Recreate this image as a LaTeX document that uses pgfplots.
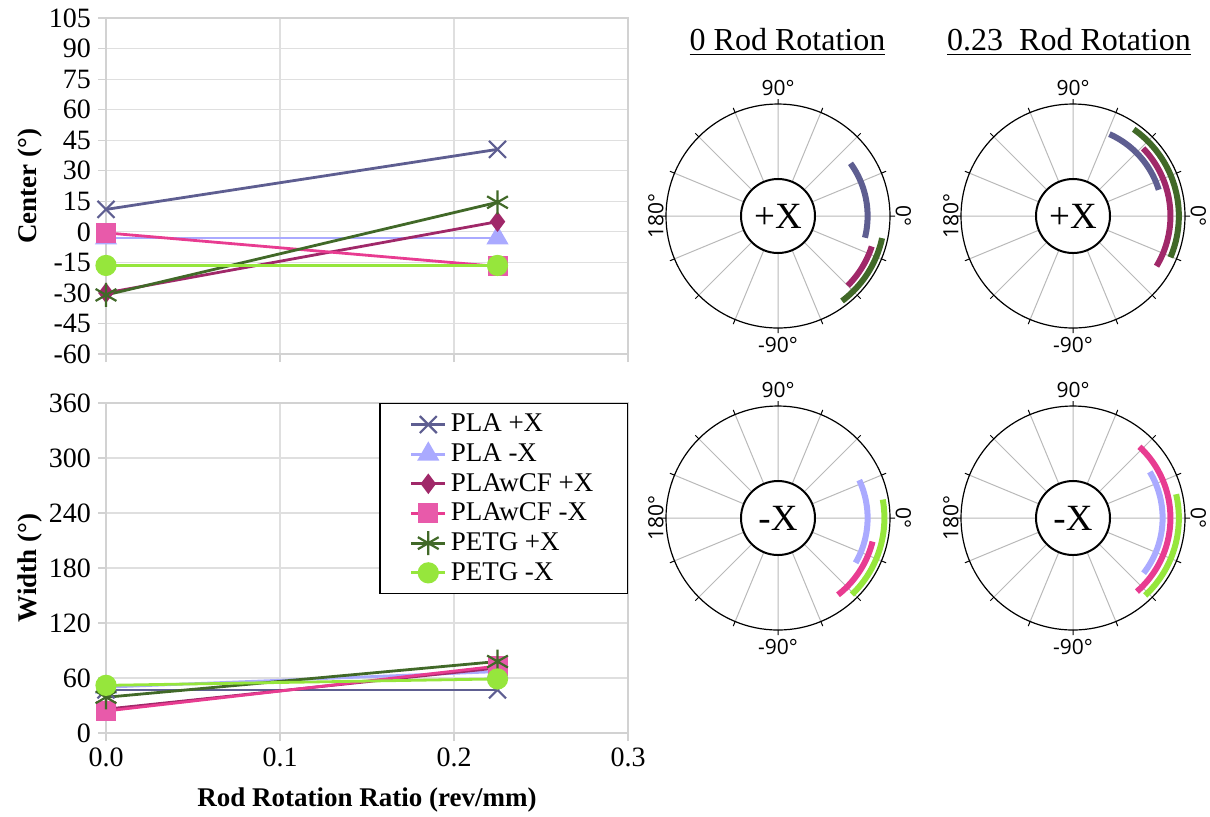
\documentclass[border=0pt]{standalone}
\usepackage{pgfplots}
\pgfplotsset{compat=1.18}
\usepackage{pgfplotstable}
\usepgfplotslibrary{polar}
\usepackage{fontspec}
\setmainfont{Liberation Serif}
\newfontfamily\polarfont{Open Sans}
\newfontfamily\tickfont{Liberation Serif}

\definecolor{plaP}{RGB}{94,94,145}
\definecolor{plaM}{RGB}{170,170,255}
\definecolor{cfP}{RGB}{160,40,105}
\definecolor{cfM}{RGB}{232,60,145}
\definecolor{cfMfill}{RGB}{232,90,170}
\definecolor{petgP}{RGB}{65,105,40}
\definecolor{petgM}{RGB}{150,230,60}

% center and width of the arc, per series
\pgfplotstableread{
x     plap plam  cfp  cfm   petgp petgm
0     11   -3    -30  -0.5  -31   -16.5
0.225 40.5 -3    5    -17   14.5  -16.5
}\centertab
\pgfplotstableread{
x     plap plam cfp cfm petgp petgm
0     47   50   26  24  39    52
0.225 47   67   71  73  78    59
}\widthtab

\pgfplotsset{
  leftstyle/.style={
    scale only axis, width=261pt,
    xmin=0, xmax=0.3, xtick={0,0.1,0.2,0.3},
    grid=major, grid style={gray!25, line width=0.6pt},
    axis line style={gray!35, line width=0.6pt},
    tick style={gray!35, line width=0.6pt},
    tick align=outside, major tick length=4pt,
    xtick pos=left, ytick pos=left,
    yticklabel={\tickfont\fontsize{14}{16}\selectfont\pgfmathprintnumber[assume math mode=true]{\tick}},
    ylabel style={font=\fontsize{13.5}{16}\selectfont\bfseries,
      at={(axis description cs:-0.146,0.5)}, anchor=center},
    clip=false,
  },
  s1/.style={color=plaP, line width=1.4pt, mark=x, mark size=6pt, mark options={line width=1.1pt}},
  s2/.style={color=plaM, line width=1.4pt, mark=triangle*, mark size=5pt},
  s3/.style={color=cfP, line width=1.4pt, mark=diamond*, mark size=4pt},
  s4/.style={color=cfM, line width=1.4pt, mark=square*, mark size=4.3pt, mark options={fill=cfMfill, draw=cfMfill}},
  s5/.style={color=petgP, line width=1.4pt, mark=asterisk, mark size=6pt, mark options={line width=1.1pt}},
  s6/.style={color=petgM, line width=1.4pt, mark=*, mark size=4.6pt},
  polstyle/.style={
    scale only axis, width=112pt, height=112pt,
    ymin=0, ymax=1,
    xtick={0,22.5,...,337.5}, xticklabels={},
    ytick=\empty,
    xmajorgrids, major x grid style={gray!55, line width=0.5pt},
    axis line style={black, line width=0.6pt},
    y axis line style={draw=none},
    major tick length=2.5pt, tick style={black, line width=0.5pt},
    clip=false, anchor=center,
  },
  arc/.style={line width=3pt, samples=40},
}

\newcommand{\polarlabels}[1]{%
  \node[font=\polarfont\fontsize{10.5}{12}\selectfont] at (axis cs:90,1.14) {90°};
  \node[font=\polarfont\fontsize{10.5}{12}\selectfont] at (axis cs:270,1.15) {-90°};
  \node[font=\polarfont\fontsize{10.5}{12}\selectfont, rotate=90] at (axis cs:180,1.09) {180°};
  \node[font=\polarfont\fontsize{10.5}{12}\selectfont, rotate=-90] at (axis cs:0,1.12) {0°};
  \draw[line width=1pt, fill=white] (axis cs:0,0) circle[radius=18.5pt];
  \node[font=\fontsize{18.5}{20}\selectfont] at (axis cs:0,0) {#1};
}

\begin{document}
\begin{tikzpicture}
\useasboundingbox (0,0) rectangle (605pt,-408pt);

% Center chart
\begin{axis}[leftstyle, at={(53pt,-177pt)}, anchor=south west, height=168pt,
  ymin=-60, ymax=105, ytick={-60,-45,...,105}, xticklabels={},
  ylabel={Center (°)}]
\addplot[s1] table[x=x, y=plap] {\centertab};
\addplot[s2] table[x=x, y=plam] {\centertab};
\addplot[s3] table[x=x, y=cfp] {\centertab};
\addplot[s4] table[x=x, y=cfm] {\centertab};
\addplot[s5] table[x=x, y=petgp] {\centertab};
\addplot[s6] table[x=x, y=petgm] {\centertab};
\end{axis}

% Width chart
\begin{axis}[leftstyle, at={(53pt,-366.5pt)}, anchor=south west, height=165pt,
  ymin=0, ymax=360, ytick={0,60,...,360},
  xticklabel={\tickfont\fontsize{14}{16}\selectfont\pgfmathprintnumber[assume math mode=true, fixed, fixed zerofill, precision=1]{\tick}},
  ylabel={Width (°)},
  xlabel={Rod Rotation Ratio (rev/mm)},
  xlabel style={font=\fontsize{13.5}{16}\selectfont\bfseries,
    at={(axis description cs:0.5,-0.203)}, anchor=center},
  legend cell align=left,
  legend style={at={(1,1)}, anchor=north east, draw=black, line width=0.7pt,
    font=\fontsize{13.5}{15}\selectfont, inner xsep=15pt, inner ysep=3pt,
    nodes={inner ysep=2.2pt}, row sep=0pt}]
\addplot[s1] table[x=x, y=plap] {\widthtab};
\addlegendentry{PLA +X}
\addplot[s2] table[x=x, y=plam] {\widthtab};
\addlegendentry{PLA -X}
\addplot[s3] table[x=x, y=cfp] {\widthtab};
\addlegendentry{PLAwCF +X}
\addplot[s4] table[x=x, y=cfm] {\widthtab};
\addlegendentry{PLAwCF -X}
\addplot[s5] table[x=x, y=petgp] {\widthtab};
\addlegendentry{PETG +X}
\addplot[s6] table[x=x, y=petgm] {\widthtab};
\addlegendentry{PETG -X}
\end{axis}

\node[font=\fontsize{16}{18}\selectfont] at (393.75pt,-21pt) {\underline{0 Rod Rotation}};
\node[font=\fontsize{16}{18}\selectfont] at (534.5pt,-21pt) {\underline{0.23\ \ Rod Rotation}};

% +X, no rotation
\begin{polaraxis}[polstyle, at={(389pt,-108pt)}]
\addplot[arc, color=plaP, domain=-14:36] {0.80};
\addplot[arc, color=cfP, domain=-45:-18] {0.88};
\addplot[arc, color=petgP, domain=-53:-12] {0.95};
\polarlabels{+X}
\end{polaraxis}

% +X, 0.23 rotation
\begin{polaraxis}[polstyle, at={(536.5pt,-108pt)}]
\addplot[arc, color=plaP, domain=17:66] {0.80};
\addplot[arc, color=cfP, domain=-31:44] {0.87};
\addplot[arc, color=petgP, domain=-23:55] {0.945};
\polarlabels{+X}
\end{polaraxis}

% -X, no rotation
\begin{polaraxis}[polstyle, at={(389pt,-259pt)}]
\addplot[arc, color=plaM, domain=-30:25] {0.80};
\addplot[arc, color=cfM, domain=-52:-14] {0.87};
\addplot[arc, color=petgM, domain=-46:10] {0.95};
\polarlabels{-X}
\end{polaraxis}

% -X, 0.23 rotation
\begin{polaraxis}[polstyle, at={(536.5pt,-259pt)}]
\addplot[arc, color=plaM, domain=-38:31] {0.80};
\addplot[arc, color=cfM, domain=-49:47] {0.87};
\addplot[arc, color=petgM, domain=-47:13] {0.945};
\polarlabels{-X}
\end{polaraxis}

\end{tikzpicture}
\end{document}
